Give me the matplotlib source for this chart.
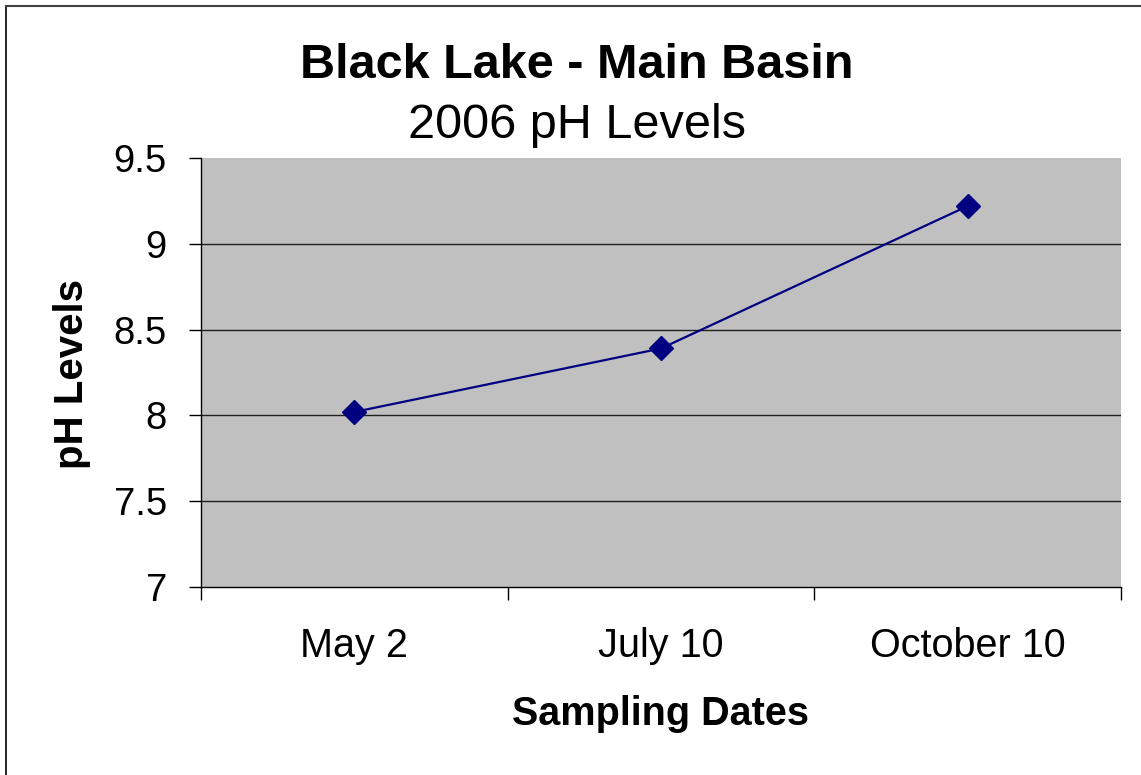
import matplotlib.pyplot as plt
from matplotlib.lines import Line2D

dates = ["May 2", "July 10", "October 10"]
ph_values = [8.02, 8.39, 9.22]
y_ticks = [7, 7.5, 8, 8.5, 9, 9.5]
y_tick_labels = ["7", "7.5", "8", "8.5", "9", "9.5"]

plt.rcParams["font.family"] = ["Liberation Sans", "DejaVu Sans"]

W, H = 1141, 775
fig = plt.figure(figsize=(W / 100, H / 100), dpi=100)
ax = fig.add_axes([201 / W, 1 - 587 / H, 920 / W, 429 / H])

# gray plot area like the old spreadsheet chart
ax.set_facecolor("#C0C0C0")

x = [i + 0.5 for i in range(len(dates))]
ax.plot(x, ph_values, color="#000080", linewidth=1.6,
        marker="D", markersize=12, markerfacecolor="#000080",
        markeredgecolor="#000080", zorder=3)

ax.set_xlim(0, len(dates))
ax.set_ylim(7, 9.5)

ax.set_yticks(y_ticks)
ax.set_yticklabels(y_tick_labels, fontsize=27.5)
for yv in y_ticks[1:-1]:
    ax.axhline(yv, color="#202020", linewidth=1.0, zorder=1)

ax.set_xticks(range(len(dates) + 1))
ax.set_xticklabels([])
ax.set_xticks(x, minor=True)
ax.set_xticklabels(dates, minor=True, fontsize=28.5)
ax.tick_params(axis="x", which="minor", length=0, pad=29)
ax.tick_params(axis="x", which="major", direction="out", length=9, width=1)
ax.tick_params(axis="y", direction="out", length=8.5, width=1, pad=16)

ax.spines["top"].set_visible(False)
ax.spines["right"].set_visible(False)
ax.spines["left"].set_linewidth(1.0)
ax.spines["bottom"].set_linewidth(1.0)

fig.text(660 / W, 1 - 725 / H, "Sampling Dates", fontsize=28.5,
         fontweight="bold", ha="center", va="baseline")
fig.text(72 / W, 1 - 374 / H, "pH Levels", fontsize=29,
         fontweight="bold", ha="center", va="center", rotation=90)

fig.text(577 / W, 1 - 78 / H, "Black Lake - Main Basin",
         fontsize=35, fontweight="bold", ha="center", va="baseline")
fig.text(577 / W, 1 - 138 / H, "2006 pH Levels",
         fontsize=35, ha="center", va="baseline")

# frame lines on the left and top edge
fig.add_artist(Line2D([6 / W, 6 / W], [0, 1 - 6 / H],
                      color="black", linewidth=1.2, transform=fig.transFigure))
fig.add_artist(Line2D([6 / W, 1], [1 - 6 / H, 1 - 6 / H],
                      color="#404040", linewidth=1.5, transform=fig.transFigure))

fig.savefig("out.png", dpi=100)
